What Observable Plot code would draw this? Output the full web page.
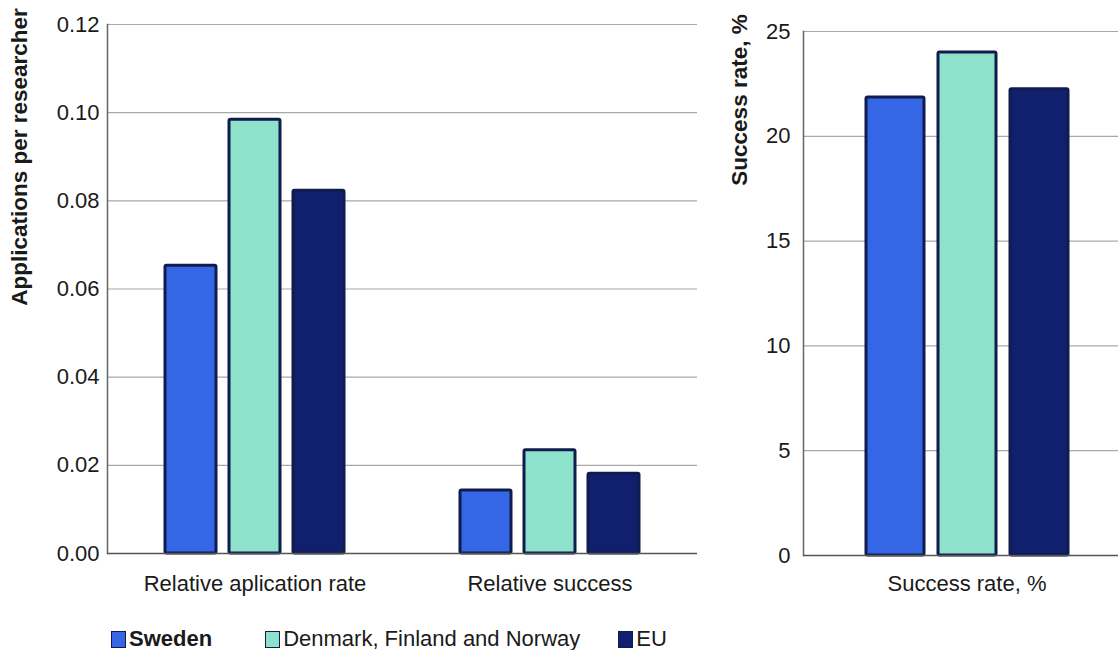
<!DOCTYPE html>
<html>
<head>
<meta charset="utf-8">
<script src="https://cdn.jsdelivr.net/npm/d3@7"></script>
<script src="https://cdn.jsdelivr.net/npm/@observablehq/plot@0.6"></script>
<style>
  html, body { margin: 0; padding: 0; background: #fff; }
  #wrap { position: relative; width: 1118px; height: 650px; overflow: hidden; background: #fff;
          font-family: "Liberation Sans", Arial, sans-serif; color: #1a1a1a; }
  .chart { position: absolute; top: 0; }
  .chart svg { max-width: none !important; }
  .ylab { position: absolute; font-weight: bold; font-size: 22.5px; white-space: nowrap;
          transform: translate(-50%, -50%) rotate(-90deg); }
  #legend { position: absolute; left: 111px; top: 626px; display: flex; align-items: center; font-size: 22px; }
  .item { display: flex; align-items: center; }
  .sw { width: 15px; height: 17px; border: 1.5px solid #0f1c4d; margin-right: 3px; box-sizing: border-box; }
</style>
</head>
<body>
<div id="wrap">
  <div id="left" class="chart" style="left:0px; width:700px"></div>
  <div id="right" class="chart" style="left:700px; width:430px"></div>
  <div class="ylab" style="left:20px; top:157px">Applications per researcher</div>
  <div class="ylab" style="left:740px; top:100px">Success rate, %</div>
  <div id="legend"></div>
</div>
<script>
// ---- data ----
const series = ["Sweden", "Denmark, Finland and Norway", "EU"];
const colors = ["#3566e6", "#8ee1ca", "#10206e"];
const leftCategories = ["Relative aplication rate", "Relative success"];
const leftSweden = [0.0653, 0.0143];
const leftNordic = [0.0984, 0.0234];
const leftEU = [0.0823, 0.0181];
const leftTicks = [0, 0.02, 0.04, 0.06, 0.08, 0.10, 0.12];
const rightCategories = ["Success rate, %"];
const rightSweden = [21.85];
const rightNordic = [24.0];
const rightEU = [22.25];
const rightTicks = [0, 5, 10, 15, 20, 25];

function rows(cats, a, b, c) {
  const out = [];
  cats.forEach((cat, i) => {
    out.push({category: cat, series: series[0], value: a[i]});
    out.push({category: cat, series: series[1], value: b[i]});
    out.push({category: cat, series: series[2], value: c[i]});
  });
  return out;
}
const leftData = rows(leftCategories, leftSweden, leftNordic, leftEU);
const rightData = rows(rightCategories, rightSweden, rightNordic, rightEU);

function chart(data, cats, opts) {
  return Plot.plot({
    width: opts.width,
    height: 600,
    marginLeft: opts.ml,
    marginRight: opts.mr,
    marginTop: opts.mt,
    marginBottom: opts.mb,
    style: {fontFamily: '"Liberation Sans", Arial, sans-serif', fontSize: "22px", color: "#1a1a1a", background: "transparent"},
    fx: {domain: cats, padding: 0, tickSize: 0, tickPadding: opts.fxPad, label: null, axis: "bottom"},
    x: {domain: series, axis: null, paddingInner: 0.2, paddingOuter: 0.87},
    y: {domain: opts.domain, ticks: opts.ticks, tickFormat: opts.fmt, tickSize: 0, tickPadding: opts.yPad, label: null, grid: false},
    color: {domain: series, range: colors},
    marks: [
      Plot.gridY(opts.ticks, {stroke: "#a8a8a8", strokeOpacity: 1, strokeWidth: 1.2}),
      Plot.frame({anchor: "left", stroke: "#666", strokeWidth: 1.5, facet: "super"}),
      Plot.barY(data, {fx: "category", x: "series", y: "value", fill: "series",
                       stroke: "#0f1c4d", strokeWidth: 3, rx: 1.5}),
      Plot.ruleY([0], {stroke: "#555", strokeWidth: 1.5})
    ]
  });
}

document.getElementById("left").appendChild(chart(leftData, leftCategories, {
  width: 700, ml: 107, mr: 3, mt: 24, mb: 47, fxPad: 22, yPad: 8,
  domain: [0, 0.12], ticks: leftTicks, fmt: d3.format(".2f")
}));
document.getElementById("right").appendChild(chart(rightData, rightCategories, {
  width: 430, ml: 103, mr: 0, mt: 31, mb: 45, fxPad: 20, yPad: 13,
  domain: [0, 25], ticks: rightTicks, fmt: d3.format("d")
}));

// legend
const legend = document.getElementById("legend");
const gaps = [53, 38, 0];
series.forEach((s, i) => {
  const item = document.createElement("div");
  item.className = "item";
  item.style.marginRight = gaps[i] + "px";
  const sw = document.createElement("div");
  sw.className = "sw";
  sw.style.background = colors[i];
  const t = document.createElement("span");
  t.textContent = s;
  if (i === 0) t.style.fontWeight = "bold";
  item.appendChild(sw);
  item.appendChild(t);
  legend.appendChild(item);
});
</script>
</body>
</html>
